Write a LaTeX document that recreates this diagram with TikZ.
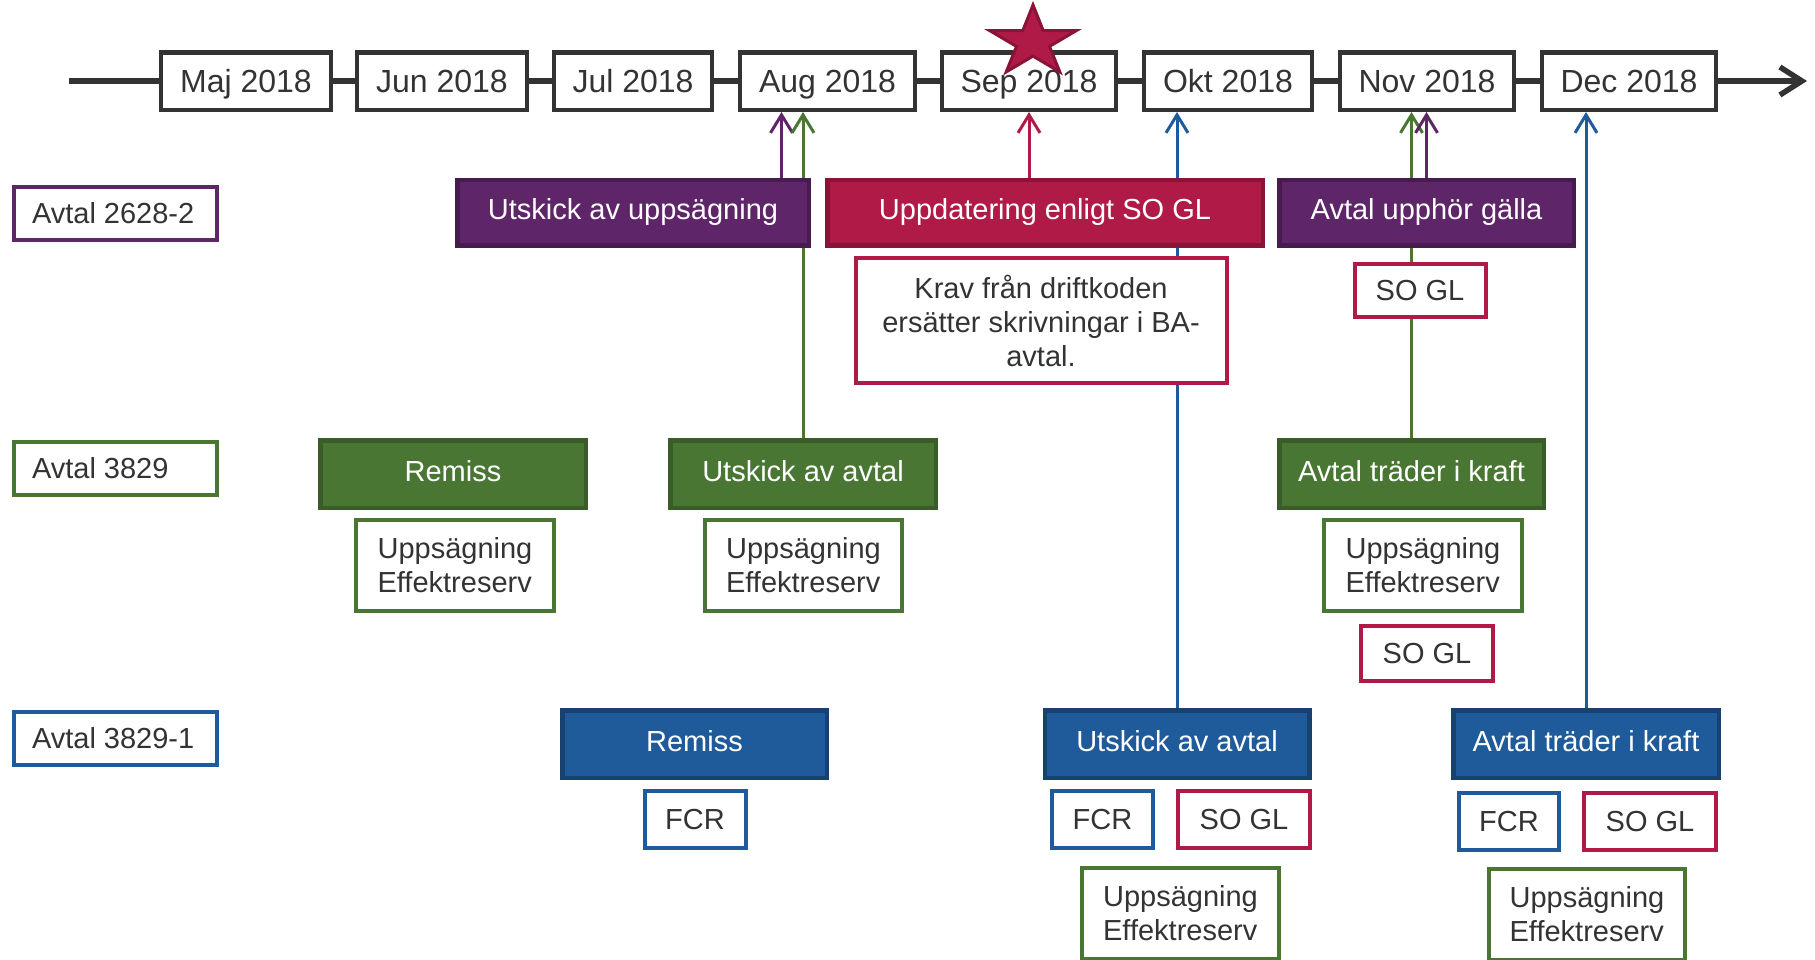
\documentclass[tikz,border=0pt]{standalone}
\usepackage{fontspec}
\setmainfont{Liberation Sans}
\usetikzlibrary{arrows.meta}
\definecolor{tl}{HTML}{333333}
\definecolor{pu}{HTML}{5E2568}
\definecolor{puD}{HTML}{471A50}
\definecolor{rd}{HTML}{B01A47}
\definecolor{rdD}{HTML}{8A1437}
\definecolor{gn}{HTML}{4A7634}
\definecolor{gnD}{HTML}{3A5C28}
\definecolor{bl}{HTML}{1F5A9A}
\definecolor{blD}{HTML}{17426F}
\pgfdeclarelayer{bg}
\pgfsetlayers{bg,main}
\tikzset{
 base/.style={rectangle, inner sep=0pt},
 one/.style={text height=26.2pt, text depth=6.1pt},
 onem/.style={text height=29pt, text depth=6.8pt},
 month/.style={base, onem, draw=tl, line width=4.5pt, fill=white, text=tl, font=\fontsize{32}{36}\selectfont, minimum height=57.5pt},
 lab/.style={base, one, draw=#1, line width=4pt, fill=white, text=tl, font=\fontsize{29}{34}\selectfont, minimum height=53pt, minimum width=203pt},
 bar/.style 2 args={base, text height=26.2pt, text depth=12pt, fill=#1, draw=#2, line width=4.5pt, text=white, font=\fontsize{29}{34}\selectfont},
 tag/.style={base, draw=#1, line width=4pt, fill=white, text=tl, font=\fontsize{29}{34}\selectfont},
 conn/.style={draw=#1, line width=3pt, -{Straight Barb[length=18pt,width=22pt]}},
 axis/.style={draw=tl, line width=5.5pt, -{Straight Barb[length=22pt,width=28pt]}},
}
\begin{document}
\begin{tikzpicture}[x=1pt,y=-1pt]
\useasboundingbox (0,0) rectangle (1815,959);
% months
\node[month, minimum width=170pt] (maj) at (246,81) {Maj 2018};
\node[month, minimum width=170pt] (jun) at (442,81) {Jun 2018};
\node[month, minimum width=158pt] (jul) at (633,81) {Jul 2018};
\node[month, minimum width=175pt] (aug) at (827.5,81) {Aug 2018};
\node[month, minimum width=174pt] (sep) at (1029,81) {Sep 2018};
\node[month, minimum width=168pt] (okt) at (1228,81) {Okt 2018};
\node[month, minimum width=174pt] (nov) at (1427,81) {Nov 2018};
\node[month, minimum width=174pt] (dec) at (1629,81) {Dec 2018};
\coordinate (tstart) at (69,81);
\coordinate (tend) at (1807,81);
% row labels
\node[lab=pu] (l1) at (115.5,213) {\makebox[167pt][l]{Avtal 2628-2}};
\node[lab=gn] (l2) at (115.5,468) {\makebox[167pt][l]{Avtal 3829}};
\node[lab=bl] (l3) at (115.5,738) {\makebox[167pt][l]{Avtal 3829-1}};
% row 1
\node[bar={pu}{puD}, minimum width=351.5pt, minimum height=65.5pt] (uup) at (633,212.5) {Utskick av uppsägning};
\node[bar={rd}{rdD}, minimum width=435.5pt, minimum height=65.5pt] (upd) at (1045,212.5) {Uppdatering enligt SO GL};
\node[bar={pu}{puD}, minimum width=294.5pt, minimum height=65.5pt] (uph) at (1426.5,212.5) {Avtal upphör gälla};
\node[tag=rd, align=center, minimum width=371pt, minimum height=125pt] (krav) at (1041,320.5) {Krav från driftkoden\\ersätter skrivningar i BA-\\avtal.};
\node[tag=rd, one, minimum width=131pt, minimum height=53pt] (so1) at (1420,290.5) {SO GL};
% row 2
\node[bar={gn}{gnD}, minimum width=265.5pt, minimum height=67.5pt] (rem2) at (453,474) {Remiss};
\node[bar={gn}{gnD}, minimum width=265.5pt, minimum height=67.5pt] (uta2) at (803,474) {Utskick av avtal};
\node[bar={gn}{gnD}, minimum width=264.5pt, minimum height=67.5pt] (atk2) at (1411.5,474) {Avtal träder i kraft};
\node[tag=gn, minimum width=198pt, minimum height=91pt, align=left] (upA) at (455,565.5) {Uppsägning\\Effektreserv};
\node[tag=gn, minimum width=197pt, minimum height=91pt, align=left] (upB) at (803.5,565.5) {Uppsägning\\Effektreserv};
\node[tag=gn, minimum width=198pt, minimum height=91pt, align=left] (upC) at (1423,565.5) {Uppsägning\\Effektreserv};
\node[tag=rd, one, minimum width=132pt, minimum height=55pt] (so2) at (1427,653.5) {SO GL};
% row 3
\node[bar={bl}{blD}, minimum width=264.5pt, minimum height=67.5pt] (rem3) at (694.5,744) {Remiss};
\node[bar={bl}{blD}, minimum width=264.5pt, minimum height=67.5pt] (uta3) at (1177,744) {Utskick av avtal};
\node[bar={bl}{blD}, minimum width=265.5pt, minimum height=67.5pt] (atk3) at (1586,744) {Avtal träder i kraft};
\node[tag=bl, one, minimum width=101pt, minimum height=57pt] (fcr1) at (695,819.5) {FCR};
\node[tag=bl, one, minimum width=101pt, minimum height=57pt] (fcr2) at (1102.5,819.5) {FCR};
\node[tag=rd, one, minimum width=132pt, minimum height=57pt] (so3) at (1244,819.5) {SO GL};
\node[tag=bl, one, minimum width=100pt, minimum height=57pt] (fcr3) at (1509,821.5) {FCR};
\node[tag=rd, one, minimum width=132pt, minimum height=57pt] (so4) at (1650,821.5) {SO GL};
\node[tag=gn, minimum width=197pt, minimum height=91pt, align=left] (upD) at (1180.5,913.5) {Uppsägning\\Effektreserv};
\node[tag=gn, minimum width=196pt, minimum height=91pt, align=left] (upE) at (1587,914.5) {Uppsägning\\Effektreserv};
% star
\draw[fill=rd, draw=rdD, line width=3pt, line join=miter]
 (1033,5) -- (1043.2,30.6) -- (1076.3,30.6) -- (1049.5,46.4) -- (1059.8,71.9)
 -- (1033,56.1) -- (1006.2,71.9) -- (1016.5,46.4) -- (989.7,30.6) -- (1022.8,30.6) -- cycle;
% connectors
\begin{pgfonlayer}{bg}
\draw[axis] (tstart) -- (tend);
\path ([xshift=-46pt]aug.south) coordinate (a1);
\draw[conn=pu] (uup.north -| a1) -- (a1);
\draw[conn=gn] (uta2.north) -- (uta2.north |- aug.south);
\draw[conn=rd] (upd.north -| sep.south) -- (sep.south);
\draw[conn=bl] (uta3.north) -- (uta3.north |- okt.south);
\draw[conn=gn] (atk2.north) -- (atk2.north |- nov.south);
\draw[conn=pu] (uph.north) -- (uph.north |- nov.south);
\draw[conn=bl] (atk3.north) -- (atk3.north |- dec.south);
\end{pgfonlayer}
\end{tikzpicture}
\end{document}
